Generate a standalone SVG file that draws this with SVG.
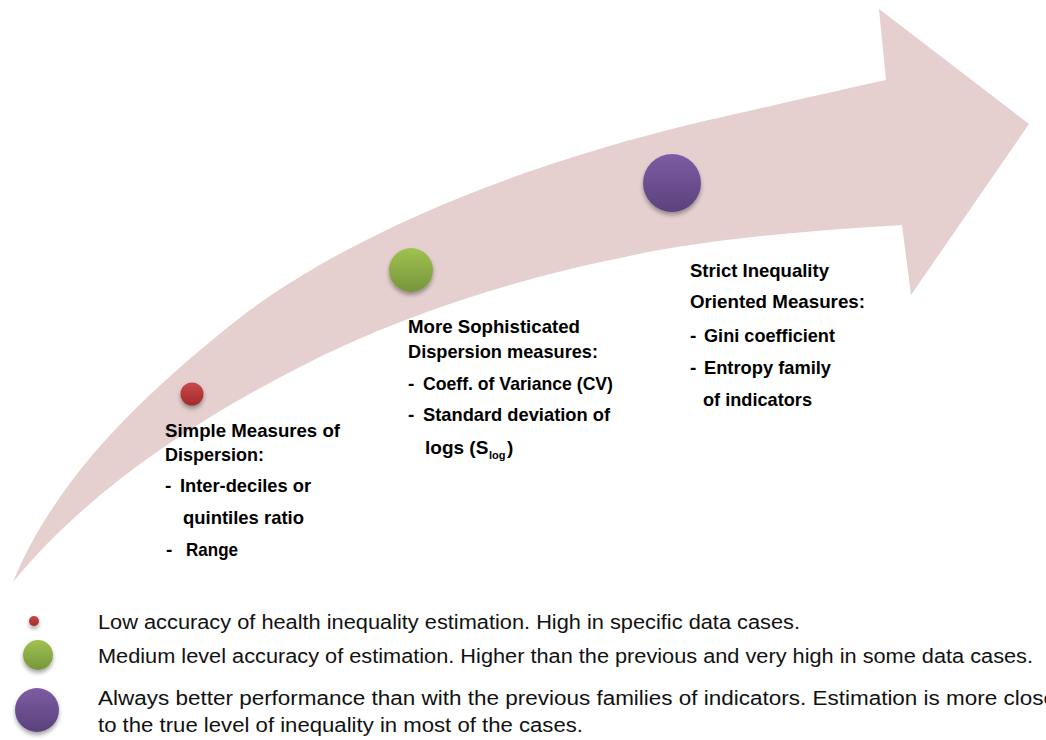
<svg xmlns="http://www.w3.org/2000/svg" width="1046" height="740" viewBox="0 0 1046 740">
  <defs>
    <linearGradient id="gRed" x1="0" y1="0" x2="0" y2="1">
      <stop offset="0" stop-color="#c84a48"/>
      <stop offset="1" stop-color="#a32a2a"/>
    </linearGradient>
    <linearGradient id="gGreen" x1="0" y1="0" x2="0" y2="1">
      <stop offset="0" stop-color="#9fc251"/>
      <stop offset="1" stop-color="#76953b"/>
    </linearGradient>
    <linearGradient id="gPurple" x1="0" y1="0" x2="0" y2="1">
      <stop offset="0" stop-color="#7d5ca3"/>
      <stop offset="1" stop-color="#5b417c"/>
    </linearGradient>
    <filter id="shadow" x="-50%" y="-50%" width="200%" height="200%">
      <feGaussianBlur in="SourceAlpha" stdDeviation="2"/>
      <feOffset dy="3" result="b"/>
      <feComponentTransfer><feFuncA type="linear" slope="0.35"/></feComponentTransfer>
      <feMerge><feMergeNode/><feMergeNode in="SourceGraphic"/></feMerge>
    </filter>
  </defs>
  <style>
    .stage { font-family: "Liberation Sans", Arial, sans-serif; font-weight: bold; font-size: 19px; fill: #000; }
    .sub { font-family: "Liberation Sans", Arial, sans-serif; font-weight: bold; font-size: 11px; fill: #000; }
    .legend { font-family: "Liberation Sans", Arial, sans-serif; font-size: 19.5px; fill: #111; }
    .arrow { fill: #e5cfcf; }
  </style>
  <rect width="1046" height="740" fill="#ffffff"/>

  <!-- curved progression arrow -->
  <g id="arrow">
    <path class="arrow" d="M13,582 C55,480 140,395 250,310 C360,230 520,165 700,122 C780,104 840,90 886,80 L879,9 L1029,124 L911,295 L902,225 C800,231 700,240 620,258 C520,278 400,315 300,367 C180,428 80,500 13,582 Z"/>
  </g>

  <!-- stage 1 -->
  <g id="stage-simple">
    <circle cx="192" cy="394" r="11.5" fill="url(#gRed)" filter="url(#shadow)"/>
    <text class="stage" x="165" y="437" textLength="175" lengthAdjust="spacingAndGlyphs">Simple Measures of</text>
    <text class="stage" x="165" y="461" textLength="99" lengthAdjust="spacingAndGlyphs">Dispersion:</text>
    <text class="stage" x="165" y="492">-</text>
    <text class="stage" x="180" y="492" textLength="131" lengthAdjust="spacingAndGlyphs">Inter-deciles or</text>
    <text class="stage" x="183" y="524" textLength="121" lengthAdjust="spacingAndGlyphs">quintiles ratio</text>
    <text class="stage" x="166" y="556">-</text>
    <text class="stage" x="186" y="556" textLength="52" lengthAdjust="spacingAndGlyphs">Range</text>
  </g>

  <!-- stage 2 -->
  <g id="stage-sophisticated">
    <circle cx="411" cy="270" r="22" fill="url(#gGreen)" filter="url(#shadow)"/>
    <text class="stage" x="408" y="333" textLength="172" lengthAdjust="spacingAndGlyphs">More Sophisticated</text>
    <text class="stage" x="408" y="358" textLength="190" lengthAdjust="spacingAndGlyphs">Dispersion measures:</text>
    <text class="stage" x="408" y="390">-</text>
    <text class="stage" x="423" y="390" textLength="190" lengthAdjust="spacingAndGlyphs">Coeff. of Variance (CV)</text>
    <text class="stage" x="408" y="421">-</text>
    <text class="stage" x="423" y="421" textLength="187" lengthAdjust="spacingAndGlyphs">Standard deviation of</text>
    <text class="stage" x="425" y="454">logs (S</text>
    <text class="sub" x="489" y="459">log</text>
    <text class="stage" x="507" y="454">)</text>
  </g>

  <!-- stage 3 -->
  <g id="stage-strict">
    <circle cx="672" cy="183" r="29" fill="url(#gPurple)" filter="url(#shadow)"/>
    <text class="stage" x="690" y="277" textLength="139" lengthAdjust="spacingAndGlyphs">Strict Inequality</text>
    <text class="stage" x="690" y="308" textLength="175" lengthAdjust="spacingAndGlyphs">Oriented Measures:</text>
    <text class="stage" x="690" y="342">-</text>
    <text class="stage" x="704" y="342" textLength="131" lengthAdjust="spacingAndGlyphs">Gini coefficient</text>
    <text class="stage" x="690" y="374">-</text>
    <text class="stage" x="704" y="374" textLength="127" lengthAdjust="spacingAndGlyphs">Entropy family</text>
    <text class="stage" x="703" y="406" textLength="109" lengthAdjust="spacingAndGlyphs">of indicators</text>
  </g>

  <!-- legend -->
  <g id="legend-low">
    <circle cx="34" cy="621" r="5" fill="url(#gRed)" filter="url(#shadow)"/>
    <text class="legend" x="98" y="629" textLength="702" lengthAdjust="spacingAndGlyphs">Low accuracy of health inequality estimation. High in specific data cases.</text>
  </g>
  <g id="legend-medium">
    <circle cx="38" cy="655" r="15" fill="url(#gGreen)" filter="url(#shadow)"/>
    <text class="legend" x="98" y="663" textLength="935" lengthAdjust="spacingAndGlyphs">Medium level accuracy of estimation. Higher than the previous and very high in some data cases.</text>
  </g>
  <g id="legend-high">
    <circle cx="37" cy="710" r="22" fill="url(#gPurple)" filter="url(#shadow)"/>
    <text class="legend" x="98" y="705" textLength="958" lengthAdjust="spacingAndGlyphs">Always better performance than with the previous families of indicators. Estimation is more close</text>
    <text class="legend" x="98" y="732" textLength="485" lengthAdjust="spacingAndGlyphs">to the true level of inequality in most of the cases.</text>
  </g>
</svg>
